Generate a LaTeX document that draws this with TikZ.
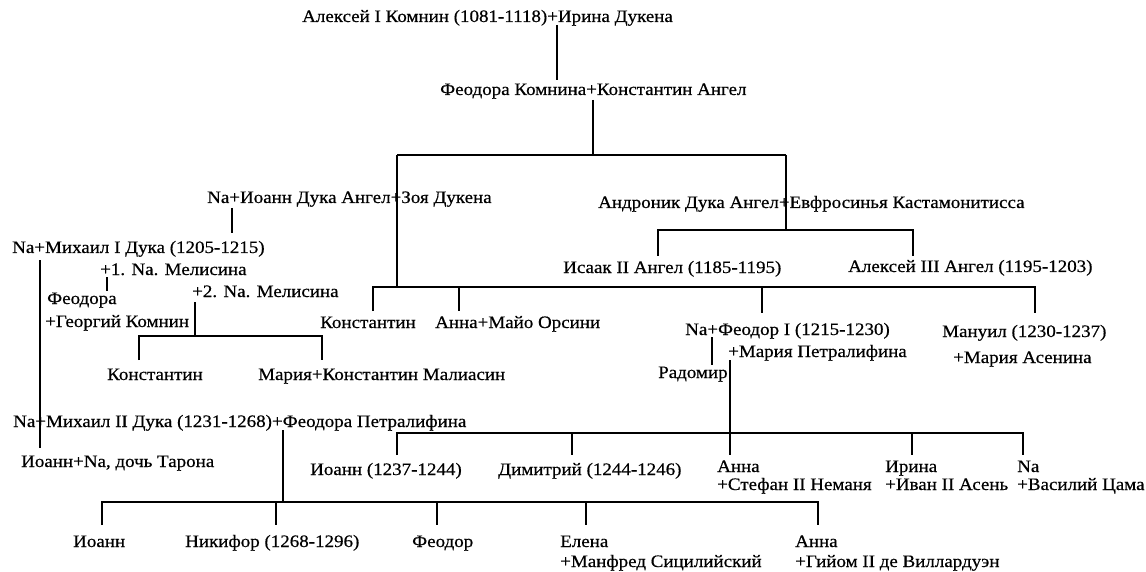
\documentclass[tikz,border=0pt]{standalone}
\usepackage{fontspec}
\setmainfont{Liberation Serif}[FakeStretch=1.085,FakeBold=0.5]
\begin{document}
\begin{tikzpicture}[x=1pt,y=-1pt,
  ln/.style={line width=1.7pt},
  nm/.style={anchor=base west, inner sep=0pt, font=\fontsize{17.5}{19}\selectfont}]
\useasboundingbox (0,0) rectangle (1146,572);
% texts
\node[nm] (t1) at (302,22) {Алексей I Комнин (1081-1118)+Ирина Дукена};
\node[nm] (t2) at (440,95) {Феодора Комнина+Константин Ангел};
\node[nm] (t3) at (207,203) {Na+Иоанн Дука Ангел+Зоя Дукена};
\node[nm] (t4) at (598,208) {Андроник Дука Ангел+Евфросинья Кастамонитисса};
\node[nm] (t5) at (563,273) {Исаак II Ангел (1185-1195)};
\node[nm] (t6) at (848,272) {Алексей III Ангел (1195-1203)};
\node[nm] (t7) at (12,253) {Na+Михаил I Дука (1205-1215)};
\node[nm] (t8) at (100,275) {+1. Na. Мелисина};
\node[nm] (t9) at (192,297) {+2. Na. Мелисина};
\node[nm] (t10) at (47,304) {Феодора};
\node[nm] (t10b) at (45,327) {+Георгий Комнин};
\node[nm] (t11) at (320,328) {Константин};
\node[nm] (t12) at (435,328) {Анна+Майо Орсини};
\node[nm] (t13) at (685,335) {Na+Феодор I (1215-1230)};
\node[nm] (t13b) at (728,357) {+Мария Петралифина};
\node[nm] (t14) at (942,337) {Мануил (1230-1237)};
\node[nm] (t14b) at (953,363) {+Мария Асенина};
\node[nm] (t15) at (658,378) {Радомир};
\node[nm] (t16) at (107,380) {Константин};
\node[nm] (t17) at (258,380) {Мария+Константин Малиасин};
\node[nm] (t18) at (13,427) {Na+Михаил II Дука (1231-1268)+Феодора Петралифина};
\node[nm] (t19) at (21,467) {Иоанн+Na, дочь Тарона};
\node[nm] (t20) at (310,475) {Иоанн (1237-1244)};
\node[nm] (t21) at (498,475) {Димитрий (1244-1246)};
\node[nm] (t22) at (717,472) {Анна};
\node[nm] (t22b) at (717,490) {+Стефан II Неманя};
\node[nm] (t23) at (885,472) {Ирина};
\node[nm] (t23b) at (885,490) {+Иван II Асень};
\node[nm] (t24) at (1017,472) {Na};
\node[nm] (t24b) at (1017,490) {+Василий Цама};
\node[nm] (t25) at (73,547) {Иоанн};
\node[nm] (t26) at (185,547) {Никифор (1268-1296)};
\node[nm] (t27) at (412,547) {Феодор};
\node[nm] (t28) at (560,547) {Елена};
\node[nm] (t28b) at (560,567) {+Манфред Сицилийский};
\node[nm] (t29) at (795,547) {Анна};
\node[nm] (t29b) at (795,567) {+Гийом II де Виллардуэн};
% junction coordinates
\coordinate (a1) at (557,25);  \coordinate (a2) at (557,80);
\coordinate (b1) at (593,100); \coordinate (b2) at (593,155);
\coordinate (bl) at (397,155); \coordinate (br) at (786,155);
\coordinate (c1) at (397,287);
\coordinate (d1) at (786,230); \coordinate (dl) at (658,230); \coordinate (dr) at (913,230);
\coordinate (dl2) at (658,256); \coordinate (dr2) at (913,256);
\coordinate (el) at (373,287); \coordinate (er) at (1035,287);
\coordinate (e1) at (373,311); \coordinate (e2) at (459,287); \coordinate (e2b) at (459,311);
\coordinate (e3) at (762,287); \coordinate (e3b) at (762,313); \coordinate (e4) at (1035,313);
\coordinate (f1) at (232,208); \coordinate (f2) at (232,233);
\coordinate (g1) at (40,260);  \coordinate (g2) at (40,448);
\coordinate (h1) at (107,277); \coordinate (h2) at (107,291);
\coordinate (i1) at (195,302); \coordinate (i2) at (195,336);
\coordinate (il) at (139,336); \coordinate (ir) at (322,336);
\coordinate (il2) at (139,360); \coordinate (ir2) at (322,360);
\coordinate (k1) at (712,337); \coordinate (k2) at (712,365);
\coordinate (m1) at (730,360); \coordinate (m2) at (730,433); \coordinate (m3) at (730,455);
\coordinate (ml) at (397,433); \coordinate (mr) at (1023,433);
\coordinate (ml2) at (397,455); \coordinate (m4) at (572,433); \coordinate (m4b) at (572,455);
\coordinate (m5) at (912,433); \coordinate (m5b) at (912,455); \coordinate (mr2) at (1023,455);
\coordinate (n1) at (283,430); \coordinate (n2) at (283,502);
\coordinate (nl) at (102,502); \coordinate (nr) at (818,502);
\coordinate (nl2) at (102,525); \coordinate (n3) at (276,502); \coordinate (n3b) at (276,525);
\coordinate (n4) at (437,502); \coordinate (n4b) at (437,525);
\coordinate (n5) at (586,502); \coordinate (n5b) at (586,525); \coordinate (nr2) at (818,525);
% connectors
\draw[ln] (a1) -- (a2);
\draw[ln] (b1) -- (b2);
\draw[ln] (bl) -- (br);
\draw[ln] (bl) -- (c1);
\draw[ln] (br) -- (d1);
\draw[ln] (dl2) -- (dl) -- (dr) -- (dr2);
\draw[ln] (e1) -- (el) -- (er) -- (e4);
\draw[ln] (e2) -- (e2b);
\draw[ln] (e3) -- (e3b);
\draw[ln] (f1) -- (f2);
\draw[ln] (g1) -- (g2);
\draw[ln] (h1) -- (h2);
\draw[ln] (i1) -- (i2);
\draw[ln] (il2) -- (il) -- (ir) -- (ir2);
\draw[ln] (k1) -- (k2);
\draw[ln] (m1) -- (m3);
\draw[ln] (ml2) -- (ml) -- (mr) -- (mr2);
\draw[ln] (m4) -- (m4b);
\draw[ln] (m5) -- (m5b);
\draw[ln] (n1) -- (n2);
\draw[ln] (nl2) -- (nl) -- (nr) -- (nr2);
\draw[ln] (n3) -- (n3b);
\draw[ln] (n4) -- (n4b);
\draw[ln] (n5) -- (n5b);
\end{tikzpicture}
\end{document}
